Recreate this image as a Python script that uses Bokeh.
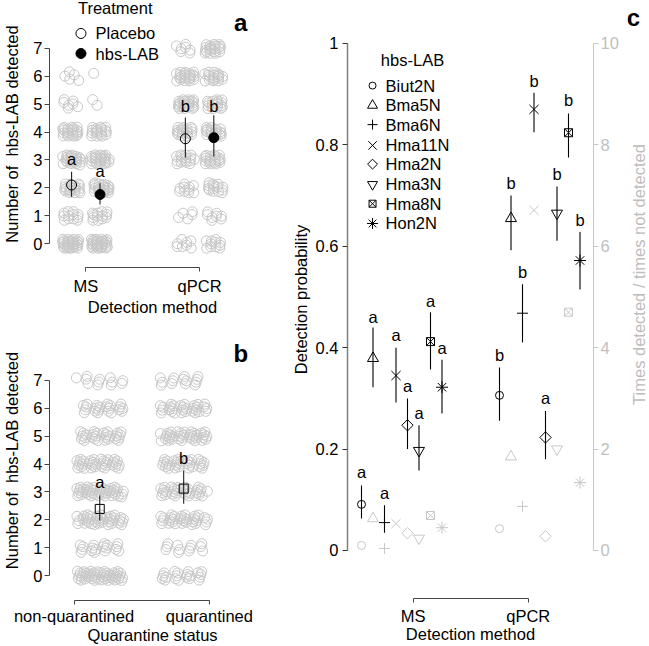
import math
from bokeh.plotting import figure
from bokeh.layouts import row, column
from bokeh.models import Range1d, LinearAxis, FixedTicker, NumeralTickFormatter
from bokeh.core.properties import value
from bokeh.embed import file_html
from bokeh.resources import INLINE

FONT = "Liberation Sans"
GRAY = "#c8c8c8"
AXC = "#444444"
FS = "16.5px"

# ---------------- data ----------------
levels = [0, 1, 2, 3, 4, 5, 6, 7]

# panel a: number of observations at each level (0..7)
a_ms_placebo = [30, 12, 20, 24, 22, 7, 5, 0]
a_ms_hbs = [30, 13, 22, 26, 18, 2, 1, 0]
a_qpcr_placebo = [8, 5, 10, 16, 18, 24, 22, 7]
a_qpcr_hbs = [11, 8, 14, 20, 18, 18, 18, 20]
a_group_x = [0.5, 1.5, 4.5, 5.5]
a_means = [2.10, 1.76, 3.76, 3.80]
a_lo = [1.68, 1.40, 3.09, 3.12]
a_hi = [2.58, 2.16, 4.52, 4.60]
a_letters = ["a", "a", "b", "b"]
a_letter_y = [3.05, 2.62, 4.95, 4.95]
a_methods = ["MS", "qPCR"]

# panel b
b_nonq = [45, 18, 38, 42, 33, 28, 22, 12]
b_q = [20, 12, 32, 32, 30, 35, 30, 14]
b_group_x = [1.19, 1.81]
b_means = [2.39, 3.12]
b_lo = [1.97, 2.58]
b_hi = [2.87, 3.77]
b_letters = ["a", "b"]
b_letter_y = [3.34, 4.20]
b_status = ["non-quarantined", "quarantined"]

# panel c
strains = ["Biut2N", "Bma5N", "Bma6N", "Hma11N", "Hma2N", "Hma3N", "Hma8N", "Hon2N"]
markers = ["circle", "triangle", "cross", "x", "square", "inverted_triangle", "square_x", "asterisk"]
mangles = [0, 0, 0, 0, math.pi / 4, 0, 0, 0]
msizes = [8, 11, 11, 13, 8, 11, 8, 12]
ms_prob = [0.091, 0.379, 0.055, 0.345, 0.247, 0.197, 0.412, 0.322]
ms_lo = [0.063, 0.322, 0.035, 0.292, 0.200, 0.158, 0.357, 0.270]
ms_hi = [0.128, 0.440, 0.089, 0.400, 0.300, 0.247, 0.470, 0.376]
ms_letters = ["a", "a", "a", "a", "a", "a", "a", "a"]
ms_letter_y = [0.154, 0.460, 0.114, 0.426, 0.325, 0.272, 0.493, 0.400]
ms_ratio = [0.10, 0.63, 0.04, 0.53, 0.34, 0.24, 0.69, 0.45]
qpcr_prob = [0.306, 0.655, 0.468, 0.870, 0.223, 0.665, 0.824, 0.572]
qpcr_lo = [0.256, 0.592, 0.410, 0.825, 0.180, 0.611, 0.775, 0.515]
qpcr_hi = [0.361, 0.700, 0.525, 0.903, 0.275, 0.718, 0.862, 0.628]
qpcr_letters = ["b", "b", "b", "b", "a", "b", "b", "b"]
qpcr_letter_y = [0.385, 0.724, 0.549, 0.927, 0.300, 0.742, 0.888, 0.651]
qpcr_ratio = [0.43, 1.85, 0.87, 6.71, 0.28, 2.00, 4.70, 1.34]
ms_x = [1, 2, 3, 4, 5, 6, 7, 8]
qpcr_x = [13, 14, 15, 16, 17, 18, 19, 20]
c_tick_x = [5.5, 15.5]


def spread(center, counts, wx, wy, seed):
    """deterministic (low-discrepancy) jitter for display of integer counts"""
    xs, ys = [], []
    for lev, n in zip(levels, counts):
        for k in range(n):
            i = k + seed + lev * 13
            u = (0.5 + i * 0.7548776662) % 1.0
            v = (0.5 + i * 0.5698402910) % 1.0
            xs.append(center + (u - 0.5) * 2 * wx)
            ys.append(lev + (v - 0.5) * 2 * wy)
    return xs, ys


def style_axis(ax, color=AXC, lab_color="black", size=FS):
    ax.axis_line_color = color
    ax.major_tick_line_color = color
    ax.minor_tick_line_color = None
    ax.major_tick_in = 0
    ax.major_tick_out = 5
    ax.major_label_text_font = FONT
    ax.major_label_text_font_size = size
    ax.major_label_text_color = lab_color
    ax.axis_label_text_font = FONT
    ax.axis_label_text_font_size = size
    ax.axis_label_text_font_style = "normal"
    ax.axis_label_text_color = lab_color


def base_fig(w, h, xr, yr, ml, mr, mb, axes=True):
    kw = {} if axes else dict(x_axis_type=None, y_axis_type=None)
    p = figure(width=w, height=h, x_range=Range1d(*xr), y_range=Range1d(*yr),
               output_backend="svg", toolbar_location=None,
               min_border_left=ml, min_border_right=mr, min_border_top=0,
               min_border_bottom=mb, **kw)
    p.outline_line_color = None
    if axes:
        p.xgrid.visible = False
        p.ygrid.visible = False
    p.background_fill_color = "white"
    return p


def add_text(p, xs, ys, texts, size=FS, align="center", style="normal", color="black",
             y_range_name="default", angle=0):
    p.text(x=xs, y=ys, text=texts, text_font=value(FONT), text_font_size=size,
           text_align=align, text_baseline="middle", text_font_style=style,
           text_color=color, y_range_name=y_range_name, angle=angle)


# ---------------- panel a ----------------
pa = base_fig(270, 320, (-0.2759, 6.9655), (-0.8615, 8.723), 45, 15, 53)
style_axis(pa.yaxis[0])
pa.yaxis[0].ticker = FixedTicker(ticks=levels)
pa.yaxis[0].bounds = (0, 7)
pa.yaxis[0].major_label_standoff = 2
pa.yaxis[0].axis_label = "Number of\u00a0 hbs-LAB detected"
pa.yaxis[0].axis_label_standoff = 9
style_axis(pa.xaxis[0])
pa.xaxis[0].ticker = FixedTicker(ticks=[1, 5])
pa.xaxis[0].bounds = (1, 5)
pa.xaxis[0].major_tick_out = 4
pa.xaxis[0].major_label_overrides = {1: a_methods[0], 5: a_methods[1]}
pa.xaxis[0].major_label_standoff = 5
pa.xaxis[0].axis_label = "Detection method"
pa.xaxis[0].axis_label_standoff = 0

for gi, counts in enumerate([a_ms_placebo, a_ms_hbs, a_qpcr_placebo, a_qpcr_hbs]):
    xs, ys = spread(a_group_x[gi], counts, 0.32, 0.18, gi * 5)
    pa.scatter(xs, ys, marker="circle", size=10, fill_color=None, line_color=GRAY, line_width=1)
pa.segment(x0=a_group_x, y0=a_lo, x1=a_group_x, y1=a_hi, line_color="#222222", line_width=1.1)
pa.scatter([a_group_x[0], a_group_x[2]], [a_means[0], a_means[2]], marker="circle", size=10,
           fill_color=None, line_color="black", line_width=1)
pa.scatter([a_group_x[1], a_group_x[3]], [a_means[1], a_means[3]], marker="circle", size=10,
           fill_color="black", line_color="black")
add_text(pa, a_group_x, a_letter_y, a_letters)
# legend
add_text(pa, [2.034], [8.47], ["Treatment"])
pa.scatter([0.83], [7.54], marker="circle", size=10, fill_color=None, line_color="black")
pa.scatter([0.83], [6.82], marker="circle", size=10, fill_color="black", line_color="black")
add_text(pa, [1.345, 1.345], [7.54, 6.82], ["Placebo", "hbs-LAB"], align="left")
add_text(pa, [6.448], [7.93], ["a"], size="24px", style="bold")

# ---------------- panel b ----------------
pb = base_fig(270, 326, (0.8188, 2.3406), (-0.8974, 9.1538), 45, 15, 46)
style_axis(pb.yaxis[0])
pb.yaxis[0].ticker = FixedTicker(ticks=levels)
pb.yaxis[0].bounds = (0, 7)
pb.yaxis[0].major_label_standoff = 2
pb.yaxis[0].axis_label = "Number of\u00a0 hbs-LAB detected"
pb.yaxis[0].axis_label_standoff = 9
style_axis(pb.xaxis[0])
pb.xaxis[0].ticker = FixedTicker(ticks=[1, 2])
pb.xaxis[0].bounds = (1, 2)
pb.xaxis[0].major_tick_out = 4
pb.xaxis[0].major_label_overrides = {1: b_status[0], 2: b_status[1]}
pb.xaxis[0].major_label_standoff = 2
pb.xaxis[0].axis_label = "Quarantine status"
pb.xaxis[0].axis_label_standoff = -2

for gi, counts in enumerate([b_nonq, b_q]):
    xs, ys = spread(b_group_x[gi], counts, 0.175, 0.18, 3 + gi * 7)
    pb.scatter(xs, ys, marker="circle", size=10, fill_color=None, line_color=GRAY, line_width=1)
pb.segment(x0=b_group_x, y0=b_lo, x1=b_group_x, y1=b_hi, line_color="#222222", line_width=1.1)
pb.scatter(b_group_x, b_means, marker="square", size=9, fill_color=None, line_color="black")
add_text(pb, b_group_x, b_letter_y, b_letters)
add_text(pb, [2.232], [7.97], ["b"], size="24px", style="bold")

# ---------------- panel c ----------------
pc = base_fig(357, 646, (-0.2174, 21.174), (-0.0947, 1.0848), 77, 34, 48)
pc.extra_y_ranges = {"ratio": Range1d(-0.947, 10.848)}
style_axis(pc.yaxis[0], color="#808080")
pc.yaxis[0].axis_line_width = 1.5
pc.yaxis[0].major_tick_line_color = "#333333"
pc.yaxis[0].ticker = FixedTicker(ticks=[0, 0.2, 0.4, 0.6, 0.8, 1])
pc.yaxis[0].formatter = NumeralTickFormatter(format="0.[0]")
pc.yaxis[0].bounds = (0, 1)
pc.yaxis[0].major_label_standoff = 4
pc.yaxis[0].axis_label = "Detection probability"
pc.yaxis[0].axis_label_standoff = 3
style_axis(pc.xaxis[0])
pc.xaxis[0].ticker = FixedTicker(ticks=c_tick_x)
pc.xaxis[0].bounds = (c_tick_x[0], c_tick_x[1])
pc.xaxis[0].major_tick_out = 4
pc.xaxis[0].major_label_overrides = {c_tick_x[0]: "MS", c_tick_x[1]: "qPCR"}
pc.xaxis[0].major_label_standoff = 4
pc.xaxis[0].axis_label = "Detection method"
pc.xaxis[0].axis_label_standoff = -3

rax = LinearAxis(y_range_name="ratio")
style_axis(rax, color=GRAY, lab_color="#c0c0c0")
rax.ticker = FixedTicker(ticks=[0, 2, 4, 6, 8, 10])
rax.bounds = (0, 10)
rax.major_label_standoff = 2
pc.add_layout(rax, "right")

for i in range(8):
    pc.scatter([ms_x[i], qpcr_x[i]], [ms_ratio[i], qpcr_ratio[i]], marker=markers[i],
               size=msizes[i], angle=mangles[i], fill_color=None,
               line_color=GRAY, line_width=1, y_range_name="ratio")
pc.segment(x0=ms_x + qpcr_x, y0=ms_lo + qpcr_lo, x1=ms_x + qpcr_x, y1=ms_hi + qpcr_hi,
           line_color="black", line_width=1.1)
for i in range(8):
    pc.scatter([ms_x[i], qpcr_x[i]], [ms_prob[i], qpcr_prob[i]], marker=markers[i],
               size=msizes[i], angle=mangles[i], fill_color=None, line_color="black",
               line_width=1)
add_text(pc, ms_x + qpcr_x, ms_letter_y + qpcr_letter_y, ms_letters + qpcr_letters)

# legend
leg_y = [0.917, 0.878, 0.840, 0.799, 0.762, 0.722, 0.684, 0.645]
add_text(pc, [5.435], [0.9665], ["hbs-LAB"])
for i in range(8):
    pc.scatter([1.96], [leg_y[i]], marker=markers[i], size=msizes[i] - 1, angle=mangles[i],
               fill_color=None, line_color="black", line_width=1)
add_text(pc, [3.09] * 8, leg_y, strains, align="left")

# ---------------- right strip: right-axis title and panel letter ----------------
ps = base_fig(22, 646, (0, 22), (0, 646), 0, 0, 0, axes=False)
add_text(ps, [11], [350], ["Times detected / times not detected"], color="#bdbdbd",
         angle=math.pi / 2)
add_text(ps, [6], [628], ["c"], size="24px", style="bold")

layout = row(column(pa, pb), pc, ps)
open("out.html", "w").write(file_html(layout, INLINE))
